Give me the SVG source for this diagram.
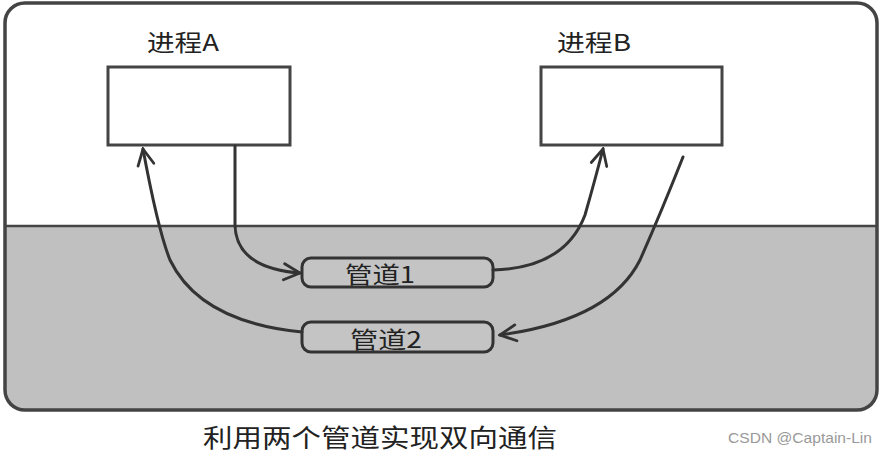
<svg xmlns="http://www.w3.org/2000/svg" width="886" height="455" viewBox="0 0 886 455">
<defs>
<style>
.box{fill:#fff;stroke:#444;stroke-width:3}
.pipe{fill:#c4c4c4;stroke:#333;stroke-width:3}
.lbl{font-family:"Noto Sans CJK SC","Liberation Serif",serif;font-size:23px;fill:#222}
.pl{font-family:"Noto Sans CJK SC","Liberation Serif",serif;font-size:23px;fill:#222}
.conn path{fill:none;stroke:#333;stroke-width:3;stroke-linecap:round}
</style>
<marker id="ah" viewBox="0 0 20 20" refX="18" refY="10" markerWidth="20" markerHeight="20" markerUnits="userSpaceOnUse" orient="auto">
<path d="M2,2 L18,10 L2,18" fill="none" stroke="#333" stroke-width="2.8" stroke-linecap="round"/>
</marker>
</defs>
<rect width="886" height="455" fill="#fff"/>
<g id="frame">
<path d="M5,226 L877,226 L877,392 Q877,410 859,410 L23,410 Q5,410 5,392 Z" fill="#c0c0c0"/>
<line x1="5" y1="226" x2="877" y2="226" stroke="#444" stroke-width="2.5"/>
<rect x="5" y="3" width="872" height="407" rx="20" fill="none" stroke="#444" stroke-width="3.5"/>
</g>
<g id="procA">
<rect class="box" x="108" y="67" width="182" height="78"/>
<text class="lbl" x="147" y="51" textLength="72" lengthAdjust="spacingAndGlyphs">进程A</text>
</g>
<g id="procB">
<rect class="box" x="541" y="67" width="181" height="78"/>
<text class="lbl" x="557" y="51" textLength="74" lengthAdjust="spacingAndGlyphs">进程B</text>
</g>
<g id="pipe1">
<rect class="pipe" x="302" y="258" width="191" height="29" rx="9"/>
<text class="pl" x="345" y="283" textLength="70" lengthAdjust="spacingAndGlyphs">管道1</text>
</g>
<g id="pipe2">
<rect class="pipe" x="302" y="322" width="191" height="30" rx="9"/>
<text class="pl" x="350" y="348" textLength="72" lengthAdjust="spacingAndGlyphs">管道2</text>
</g>
<g class="conn" id="connectors">
<path d="M235,146 L235,225 Q236,268 300,273" marker-end="url(#ah)"/>
<path d="M493,270 Q565,268 585,215 Q595,180 603,149" marker-end="url(#ah)"/>
<path d="M683,157 Q660,215 640,260 Q610,320 500,335" marker-end="url(#ah)"/>
<path d="M302,332 Q200,322 170,260 Q158,230 143,149" marker-end="url(#ah)"/>
</g>
<g id="caption">
<text x="203" y="447" font-family="'Noto Sans CJK SC',sans-serif" font-size="25" fill="#222" textLength="354" lengthAdjust="spacingAndGlyphs">利用两个管道实现双向通信</text>
<text x="728" y="443" font-family="'Liberation Sans',sans-serif" font-size="15" fill="#999" textLength="144" lengthAdjust="spacingAndGlyphs">CSDN @Captain-Lin</text>
</g>
</svg>
